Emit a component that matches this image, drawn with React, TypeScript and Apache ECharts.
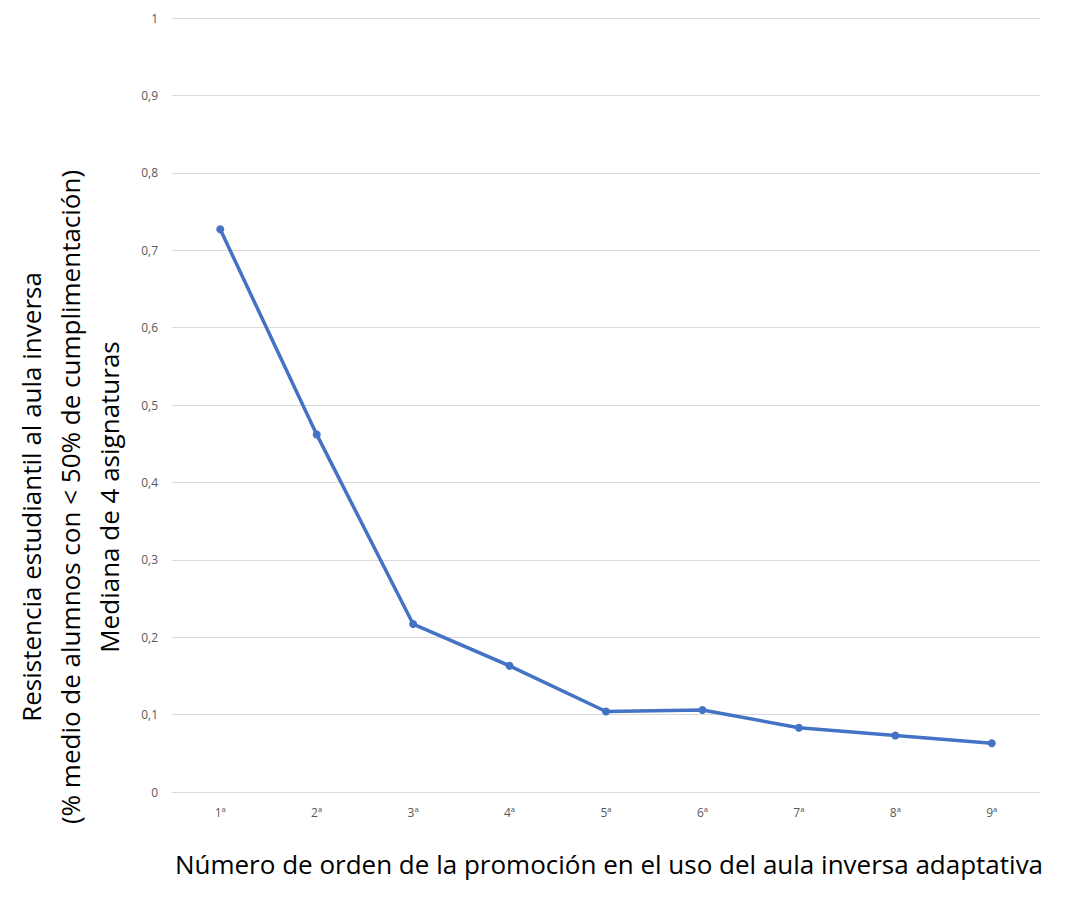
import React, { useEffect, useRef } from "react";
import * as echarts from "echarts";

const categories = ["1ª", "2ª", "3ª", "4ª", "5ª", "6ª", "7ª", "8ª", "9ª"];
const values = [0.727, 0.462, 0.217, 0.163, 0.104, 0.106, 0.083, 0.073, 0.063];
const yTitleLines = [
  "Resistencia estudiantil al aula inversa",
  "(% medio de alumnos con < 50% de cumplimentación)",
  "Mediana de 4 asignaturas",
];
const xTitle = "Número de orden de la promoción en el uso del aula inversa adaptativa";

export default function App() {
  const ref = useRef<HTMLDivElement>(null);
  useEffect(() => {
    const chart = echarts.init(ref.current!, null, { renderer: "svg" });
    chart.setOption({
      animation: false,
      textStyle: { fontFamily: "Open Sans" },
      grid: { left: 172, right: 25, top: 18, bottom: 108, containLabel: false, outerBoundsMode: "none" },
      xAxis: {
        type: "category",
        data: categories,
        boundaryGap: true,
        axisLine: { show: true, lineStyle: { color: "#d9d9d9", width: 1 } },
        axisTick: { show: false },
        axisLabel: { color: "#595959", fontSize: 12, margin: 14, fontFamily: "Open Sans" },
      },
      yAxis: {
        type: "value",
        min: 0,
        max: 1,
        interval: 0.1,
        axisLine: { show: false },
        axisTick: { show: false },
        splitLine: { lineStyle: { color: "#d9d9d9", width: 1 } },
        axisLabel: {
          color: "#595959",
          fontSize: 12,
          margin: 14,
          fontFamily: "Open Sans",
          formatter: (v: number) => String(Math.round(v * 10) / 10).replace(".", ","),
        },
      },
      graphic: [
        {
          type: "text",
          x: 70,
          y: 497,
          rotation: Math.PI / 2,
          style: {
            text: yTitleLines.join("\n"),
            fill: "#000",
            font: "26px 'Open Sans'",
            lineHeight: 39,
            align: "center",
            verticalAlign: "middle",
          },
        },
        {
          type: "text",
          x: 609,
          y: 864,
          style: {
            text: xTitle,
            fill: "#000",
            font: "26px 'Open Sans'",
            align: "center",
            verticalAlign: "middle",
          },
        },
      ],
      series: [
        {
          type: "line",
          data: values,
          symbol: "circle",
          symbolSize: 8,
          lineStyle: { color: "#4472C4", width: 3.5 },
          itemStyle: { color: "#4472C4" },
        },
      ],
    });
    return () => chart.dispose();
  }, []);
  return <div ref={ref} style={{ width: 1065, height: 900, margin: -8 }} />;
}
